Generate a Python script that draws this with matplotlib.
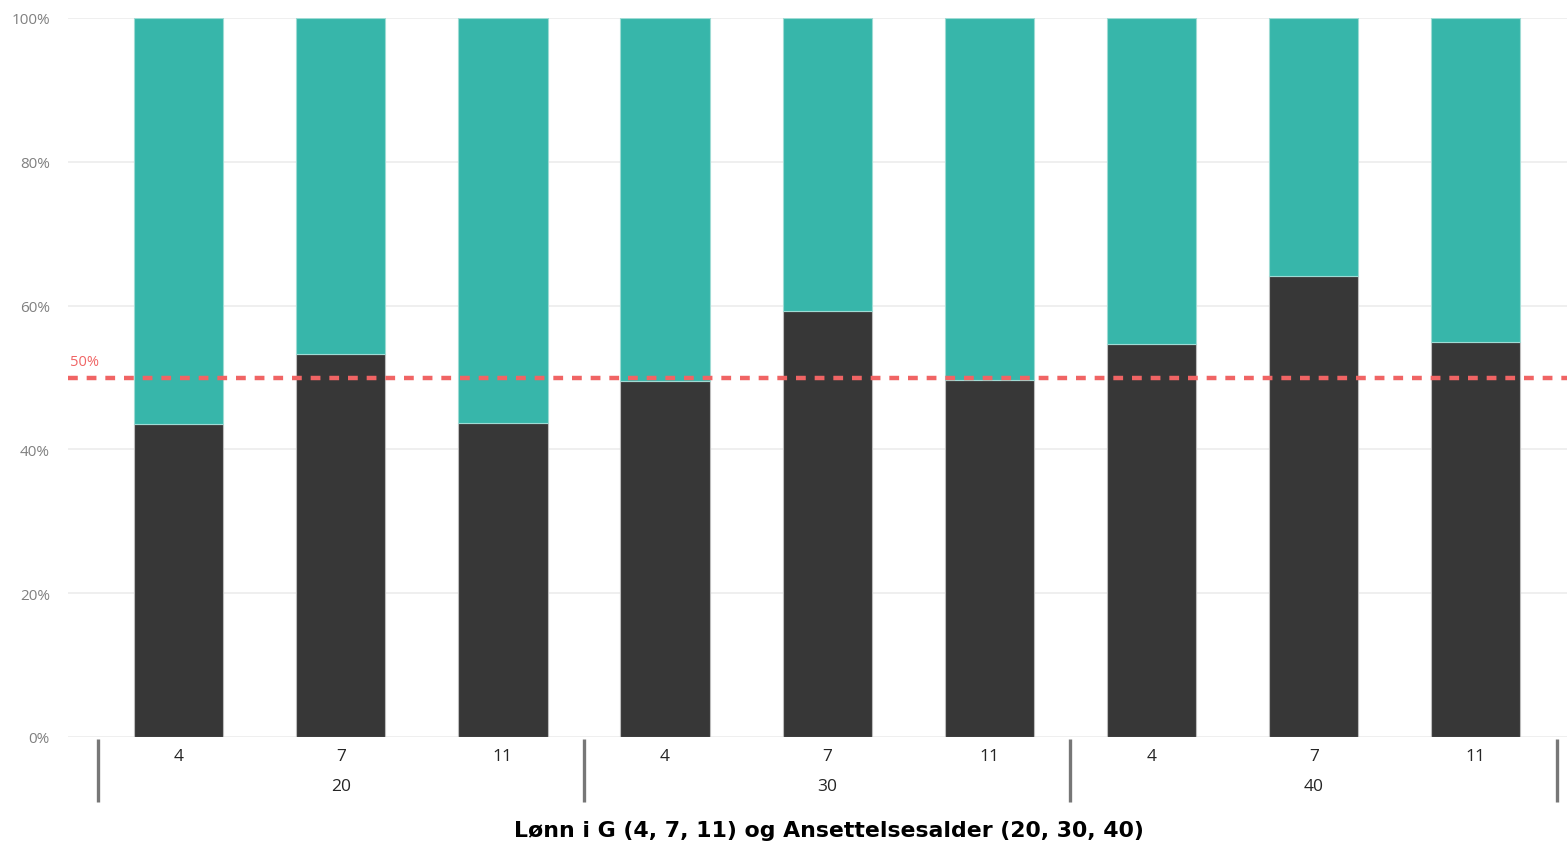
import numpy as np
import matplotlib.pyplot as plt
import matplotlib.transforms as mtransforms

# Andel per lønn (G) innen hver ansettelsesalder
groups = ["20", "30", "40"]
lonn = ["4", "7", "11"]
dark_share = [43.5, 53.3, 43.7, 49.5, 59.2, 49.7, 54.7, 64.1, 54.9]
teal_share = [100 - v for v in dark_share]
y_ticks = [0, 20, 40, 60, 80, 100]

dark_col = "#373737"
teal_col = "#37b6aa"
ref_col = "#f06464"

fig = plt.figure(figsize=(15.67, 8.45), dpi=100)
ax = fig.add_axes([68 / 1567, 1 - 738 / 845, 1 - 68 / 1567, (738 - 19) / 845])

x = np.arange(len(dark_share))
ax.bar(x, dark_share, width=0.55, color=dark_col, edgecolor="#bdbdbd", linewidth=0.8, zorder=2)
ax.bar(x, teal_share, bottom=dark_share, width=0.55, color=teal_col,
       edgecolor="#9edbd4", linewidth=0.8, zorder=2)

# 50% referanselinje
ax.axhline(50, color=ref_col, linestyle=(0, (2.2, 2)), linewidth=3.2, zorder=3)
ax.text(-0.672, 51.2, "50%", color=ref_col, fontsize=10.5, family="Open Sans", va="bottom", ha="left")

ax.set_xlim(-0.682, 8.562)
ax.set_ylim(0, 100)
ax.set_yticks(y_ticks)
ax.set_yticklabels([f"{t}%" for t in y_ticks], color="#808080", fontsize=11, family="Open Sans")
ax.yaxis.grid(True, color="#ececec", linewidth=1.2, zorder=0)
ax.set_axisbelow(True)
ax.tick_params(axis="y", length=0, pad=13)
ax.tick_params(axis="x", length=0)
ax.set_xticks([])
for s in ax.spines.values():
    s.set_visible(False)

# hierarkiske x-etiketter: lønn og ansettelsesalder
trans = mtransforms.blended_transform_factory(ax.transData, ax.transAxes)
for i in x:
    ax.text(i, -0.027, lonn[i % 3], transform=trans, ha="center", va="center",
            fontsize=12.5, color="#252525", family="Open Sans")
for g, name in enumerate(groups):
    ax.text(3 * g + 1, -0.068, name, transform=trans, ha="center", va="center",
            fontsize=12.5, color="#252525", family="Open Sans")
for sep in [-0.5, 2.5, 5.5, 8.5]:
    ax.plot([sep, sep], [-0.003, -0.0904], transform=trans, color="#777777",
            linewidth=2.4, clip_on=False, solid_capstyle="butt")

fig.text(829 / 1567, 1 - 831 / 845, "Lønn i G (4, 7, 11) og Ansettelsesalder (20, 30, 40)",
         ha="center", va="center", fontsize=15.8, fontweight="bold", family="DejaVu Sans")

fig.savefig("out.png", dpi=100)
